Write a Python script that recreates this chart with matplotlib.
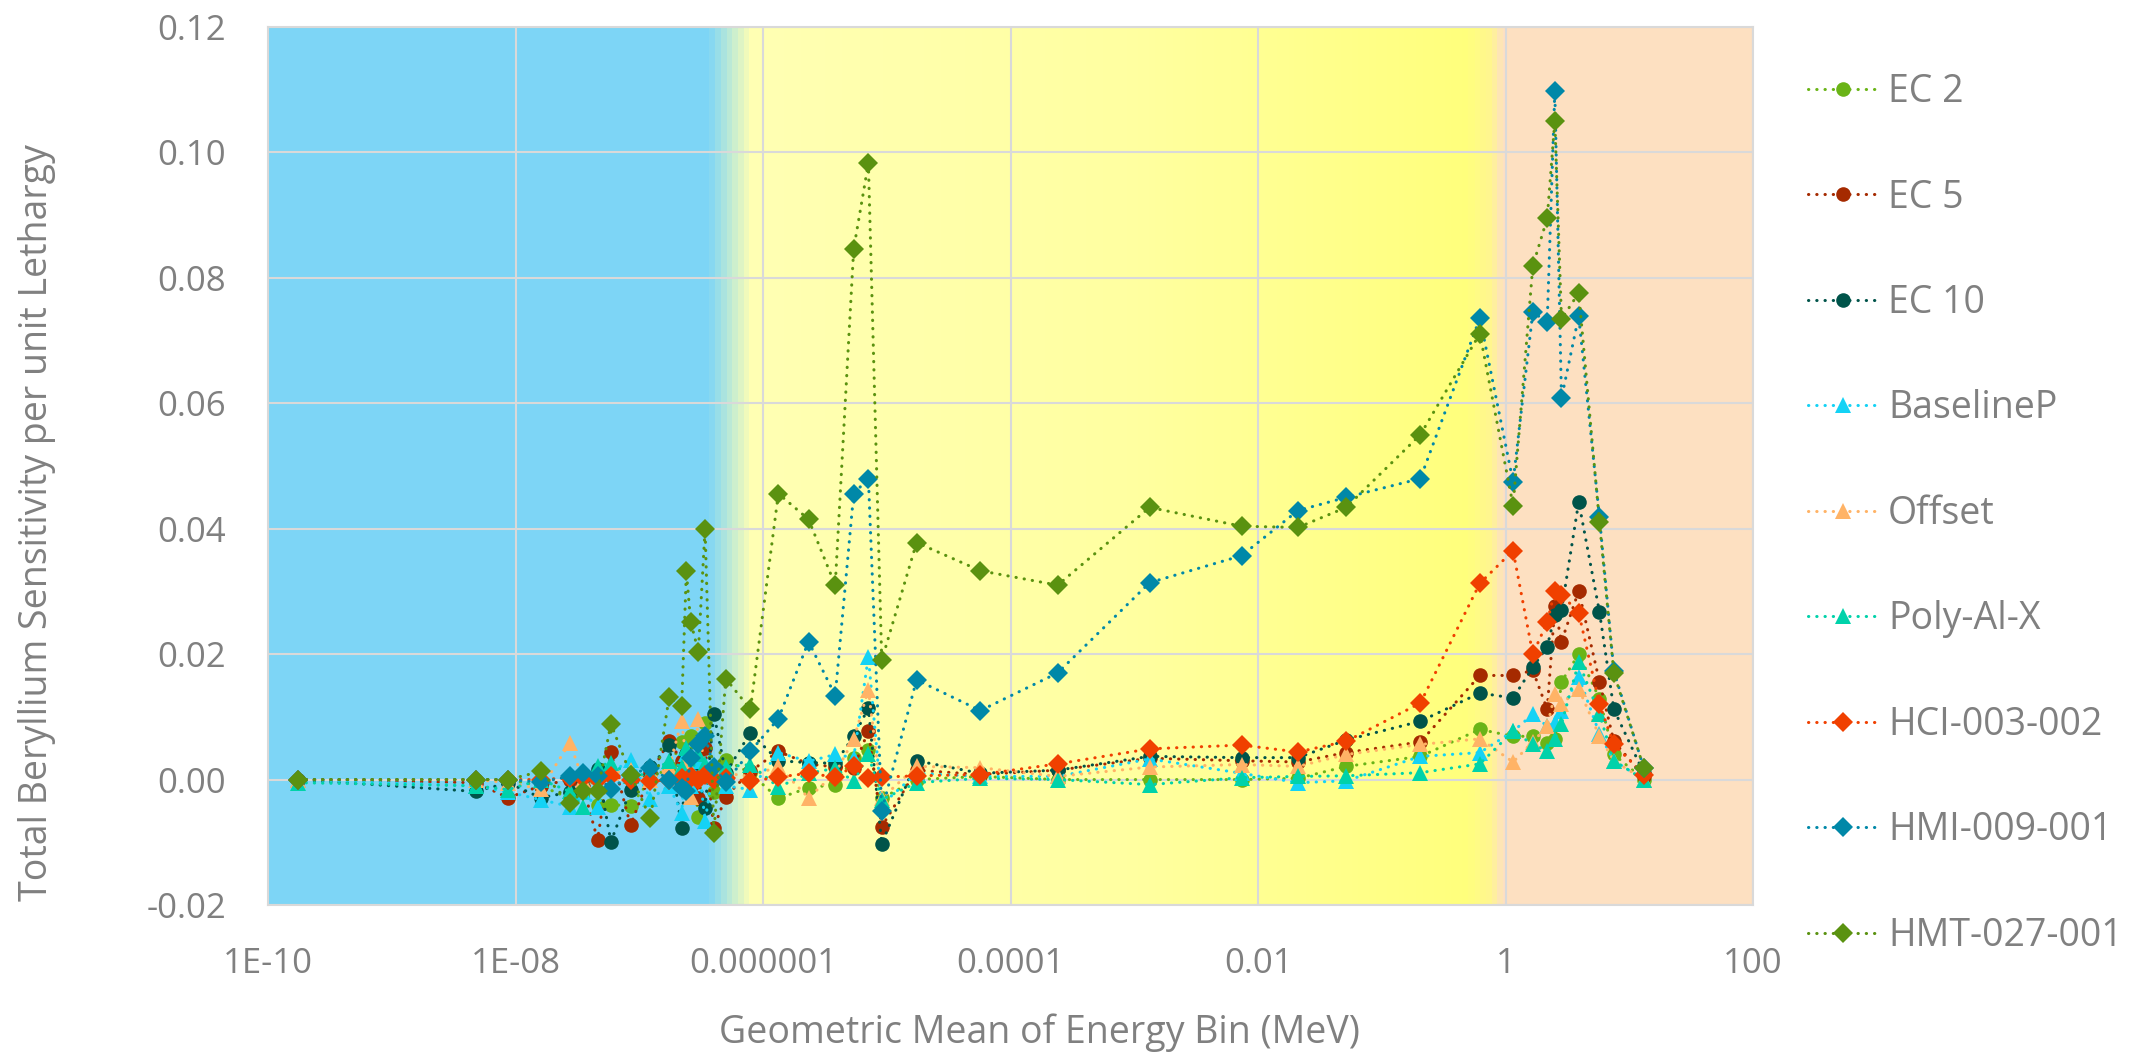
import matplotlib.pyplot as plt
import numpy as np
from matplotlib.colors import LinearSegmentedColormap

plt.rcParams['font.family'] = ['Open Sans', 'DejaVu Sans']

# energy bin geometric means (MeV)
energy = [1.74e-10, 4.8e-9, 8.7e-9, 1.6e-8, 2.75e-8, 3.5e-8, 4.6e-8, 5.9e-8, 8.5e-8,
          1.23e-7, 1.74e-7, 2.2e-7, 2.4e-7, 2.6e-7, 3.0e-7, 3.4e-7, 4.0e-7, 5.0e-7,
          7.9e-7, 1.33e-6, 2.33e-6, 3.83e-6, 5.4e-6, 7.1e-6, 9.1e-6, 1.74e-5, 5.7e-5,
          2.4e-4, 1.33e-3, 7.35e-3, 2.1e-2, 5.15e-2, 0.205, 0.62, 1.15, 1.66, 2.17,
          2.5, 2.83, 3.9, 5.74, 7.5, 13.1]

ec2 = [0.0, 0.0, 0.0, -0.001, -0.003, -0.002, -0.004, -0.004, -0.0042, 0.0, 0.002,
       0.006, 0.0, 0.007, -0.006, 0.009, -0.002, 0.0032, 0.001, -0.003, -0.0013,
       -0.0008, 0.0035, 0.0047, -0.003, 0.0, 0.0005, 0.0, 0.0, 0.0, 0.0002, 0.0021,
       0.0037, 0.008, 0.0069, 0.0069, 0.0058, 0.0065, 0.0156, 0.020, 0.0129, 0.004, 0.0]
ec5 = [0.0, -0.0005, -0.0029, -0.001, 0.0, -0.001, -0.0096, 0.0044, -0.0073, 0.001,
       0.0061, 0.003, 0.004, -0.001, -0.0029, 0.005, -0.0077, -0.0027, 0.0013, 0.0045,
       0.0025, 0.002, 0.0019, 0.0078, -0.0075, 0.0015, 0.0008, 0.0015, 0.0034, 0.003,
       0.0028, 0.0043, 0.006, 0.0166, 0.0166, 0.0174, 0.0112, 0.0276, 0.022, 0.0301,
       0.0156, 0.0061, 0.0005]
ec10 = [0.0, -0.0019, -0.0005, -0.0029, -0.002, 0.0, 0.0017, -0.0099, -0.0016, 0.002,
        0.0055, -0.0077, 0.004, 0.002, 0.001, -0.0045, 0.0105, 0.001, 0.0075, 0.003,
        0.0027, 0.0026, 0.0069, 0.0114, -0.0102, 0.003, 0.001, 0.0015, 0.0037, 0.0035,
        0.0035, 0.0063, 0.0093, 0.0138, 0.013, 0.0179, 0.0212, 0.0262, 0.027, 0.0443,
        0.0267, 0.0112, 0.001]
baselinep = [0.0, -0.001, -0.002, -0.0032, -0.0043, -0.002, -0.0044, 0.001, 0.0032,
             -0.0031, -0.001, -0.0053, 0.004, -0.001, 0.003, -0.0066, 0.002, -0.001,
             -0.0016, 0.0043, 0.0029, 0.004, 0.0035, 0.0196, -0.004, 0.001, 0.0005,
             0.0005, 0.0033, 0.001, -0.0005, -0.0002, 0.0037, 0.0043, 0.0077, 0.0104,
             0.0085, 0.009, 0.011, 0.0164, 0.0073, 0.003, 0.0]
offset = [0.0, 0.0, -0.0005, -0.0015, 0.0059, 0.0, -0.001, 0.001, 0.0015, 0.0, 0.002,
          0.0093, 0.003, -0.0027, 0.0096, 0.001, 0.002, 0.001, 0.0005, 0.0021, -0.0029,
          0.001, 0.0064, 0.0143, -0.003, 0.0021, 0.0019, 0.0005, 0.002, 0.0024, 0.0021,
          0.004, 0.0056, 0.0065, 0.0028, 0.006, 0.0085, 0.0136, 0.012, 0.0145, 0.0069,
          0.003, 0.0]
poly_al_x = [-0.0005, -0.001, -0.0016, 0.0, -0.0019, -0.0043, 0.0021, 0.0027, 0.0005,
             0.001, 0.003, 0.002, 0.005, 0.001, 0.004, 0.0025, 0.0005, 0.002, 0.0024,
             -0.0012, 0.001, 0.0018, -0.0003, 0.004, -0.0032, -0.0005, 0.0002, 0.0,
             -0.0008, 0.0003, 0.0005, 0.0006, 0.0011, 0.0025, 0.0077, 0.0056, 0.0046,
             0.0065, 0.0089, 0.0187, 0.0104, 0.003, 0.0]
hci = [0.0, 0.0, 0.0, 0.0, 0.0003, 0.0003, 0.0, 0.0005, 0.0, -0.0003, 0.0, 0.0003,
       -0.0005, 0.0005, 0.0, 0.0008, 0.0, 0.0002, -0.0003, 0.0004, 0.001, 0.0004,
       0.0021, 0.0002, 0.0004, 0.0006, 0.0008, 0.0025, 0.0049, 0.0055, 0.0044, 0.0061,
       0.0122, 0.0313, 0.0365, 0.020, 0.0251, 0.0301, 0.0295, 0.0266, 0.012, 0.0056,
       0.0008]
hmi = [0.0, 0.0, 0.0, -0.0004, 0.0005, 0.0011, 0.0006, -0.0015, 0.0008, 0.0019, 0.0,
       -0.0013, -0.0019, 0.0035, 0.0057, 0.0069, 0.002, -0.0004, 0.0045, 0.0097, 0.022,
       0.0134, 0.0456, 0.048, -0.005, 0.0159, 0.011, 0.017, 0.0314, 0.0357, 0.0429,
       0.045, 0.048, 0.0736, 0.0475, 0.0745, 0.073, 0.1098, 0.0608, 0.0739, 0.0418,
       0.0173, 0.0018]
hmt = [0.0, 0.0, 0.0, 0.0013, -0.0038, -0.0019, -0.0019, 0.0089, 0.0008, -0.0062,
       0.0131, 0.0117, 0.0332, 0.0252, 0.0204, 0.040, -0.0085, 0.0161, 0.0112, 0.0456,
       0.0415, 0.031, 0.0846, 0.0983, 0.019, 0.0378, 0.0333, 0.031, 0.0434, 0.0404,
       0.0402, 0.0434, 0.055, 0.0711, 0.0437, 0.0819, 0.0895, 0.105, 0.0734, 0.0776,
       0.041, 0.017, 0.0018]

series = [('EC 2', ec2, '#6AB417', 'o'),
          ('EC 5', ec5, '#A52A00', 'o'),
          ('EC 10', ec10, '#00544A', 'o'),
          ('BaselineP', baselinep, '#14D2F5', '^'),
          ('Offset', offset, '#FFB366', '^'),
          ('Poly-Al-X', poly_al_x, '#00D2AA', '^'),
          ('HCI-003-002', hci, '#F04000', 'D'),
          ('HMI-009-001', hmi, '#0088A8', 'D'),
          ('HMT-027-001', hmt, '#5A9210', 'D')]

xticks = [1e-10, 1e-8, 1e-6, 1e-4, 1e-2, 1, 100]
xtick_labels = ['1E-10', '1E-08', '0.000001', '0.0001', '0.01', '1', '100']
yticks = [-0.02, 0.0, 0.02, 0.04, 0.06, 0.08, 0.10, 0.12]
ytick_labels = ['-0.02', '0.00', '0.02', '0.04', '0.06', '0.08', '0.10', '0.12']

grey = '#808080'
fig = plt.figure(figsize=(21.34, 10.56), dpi=100)
ax = fig.add_axes([0.1256, 0.143, 0.6959, 0.8314])
ax.set_xscale('log')
ax.set_xlim(1e-10, 100)
ax.set_ylim(-0.02, 0.12)

# background bands (thermal / epithermal / fast)
bg = LinearSegmentedColormap.from_list('bg', [
    (0.0, '#7DD5F6'), (3.55 / 12, '#7DD5F6'), (3.9 / 12, '#FFFFB3'),
    (7.0 / 12, '#FFFFA0'), (9.7 / 12, '#FFFF7C'), (9.9 / 12, '#FFF590'),
    (10.0 / 12, '#FDE0C1'), (1.0, '#FDE0C1')])
xe = np.logspace(-10, 2, 1201)
ax.pcolormesh(xe, [-0.02, 0.12], np.linspace(0, 1, 1200)[None, :], cmap=bg,
              vmin=0, vmax=1, shading='flat', zorder=0, rasterized=True)

ax.grid(True, color='#D9D9D9', linewidth=1.5, zorder=1)
ax.set_axisbelow(False)
for s in ax.spines.values():
    s.set_color('#D9D9D9')
    s.set_linewidth(1.5)

for name, vals, col, mk in series:
    ms = 10.5 if mk == 'o' else (11.5 if mk == '^' else 10)
    ax.plot(energy, vals, color=col, linestyle=(0, (0.1, 2.6)), linewidth=2.2,
            dash_capstyle='round', marker=mk, markersize=ms, markeredgewidth=0,
            label=name, zorder=3)

ax.set_xticks(xticks)
ax.set_xticklabels(xtick_labels)
ax.xaxis.set_minor_locator(plt.NullLocator())
ax.set_yticks(yticks)
ax.set_yticklabels(ytick_labels)
ax.tick_params(length=0, labelsize=25, labelcolor=grey)
ax.tick_params(axis='x', pad=30)
ax.tick_params(axis='y', pad=30)

fig.text(1039 / 2134, 1 - 1033 / 1056, 'Geometric Mean of Energy Bin (MeV)',
         fontsize=27, color=grey, ha='center', va='center')
fig.text(37.5 / 2134, 1 - 523 / 1056, 'Total Beryllium Sensitivity per unit Lethargy',
         fontsize=27, color=grey, ha='center', va='center', rotation=90)

leg = ax.legend(loc='upper left', bbox_to_anchor=(1808 / 2134, 1 - 73 / 1056),
                bbox_transform=fig.transFigure, frameon=False, fontsize=27,
                handlelength=1.87, handletextpad=0.27, labelspacing=1.80,
                borderpad=0, borderaxespad=0)
for t in leg.get_texts():
    t.set_color(grey)

fig.savefig('out.png', dpi=100)
